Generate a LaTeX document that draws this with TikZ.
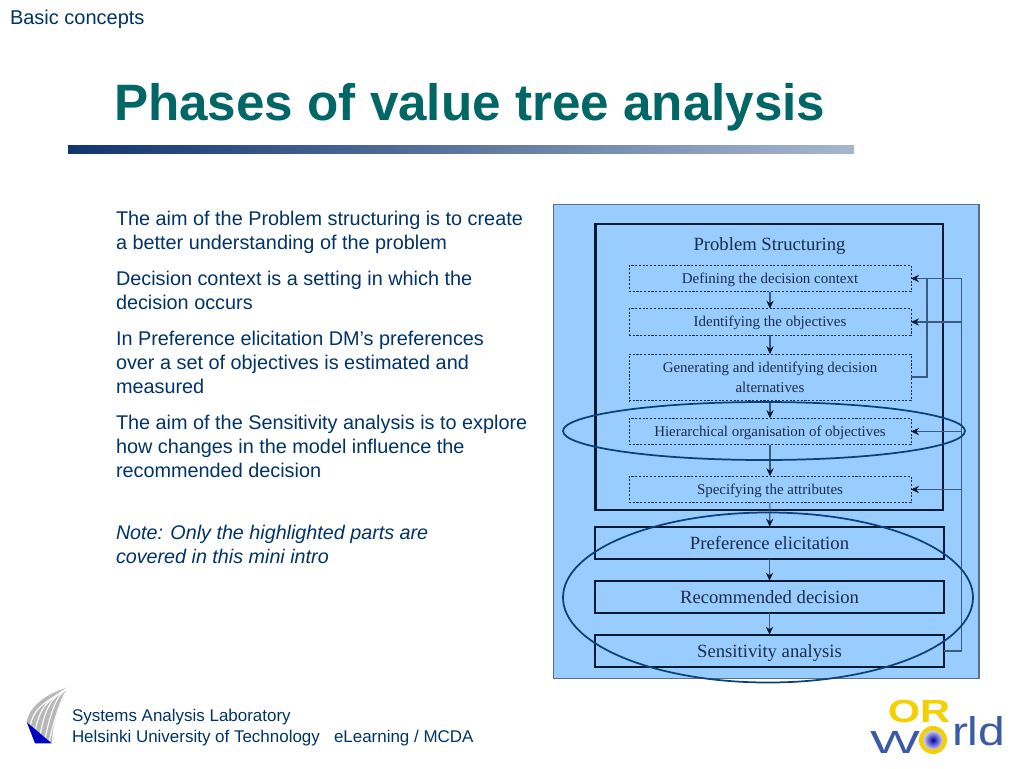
\documentclass[tikz,border=0pt]{standalone}
\usepackage{fontspec}
\setmainfont{Liberation Sans}
\newfontfamily\dgfont{Liberation Serif}
\usetikzlibrary{arrows.meta,shapes.geometric}
\definecolor{navytext}{HTML}{003366}
\definecolor{teal}{HTML}{006666}
\definecolor{panelblue}{HTML}{99CCFF}
\definecolor{dgink}{HTML}{1C2C4C}
\definecolor{ringblue}{HTML}{0B4078}
\definecolor{boxink}{HTML}{0A1A30}
\definecolor{wireink}{HTML}{3A5A80}
\definecolor{tipink}{HTML}{101C30}
\definecolor{orgold}{HTML}{F4D000}
\definecolor{worldblue}{HTML}{3A5AA8}
\definecolor{barstart}{HTML}{12356E}
\definecolor{barend}{HTML}{A6B6D0}
\tikzset{
  x=0.75pt,y=-0.75pt,
  px/.style={inner sep=0pt,outer sep=0pt},
  bodytext/.style={px,anchor=north west,align=left,text=navytext,font=\fontsize{14.88}{18}\selectfont},
  foot/.style={px,anchor=base west,text=navytext,font=\fontsize{12.72}{15}\selectfont},
  dashbase/.style={px,draw=dgink,dash pattern=on 1.6pt off 1.2pt,line width=0.55pt,anchor=center,align=center,text=dgink,font=\dgfont\fontsize{11.2}{14.6}\selectfont,minimum width=211.5pt},
  dashbox/.style={dashbase,minimum height=20pt,text height=9pt,text depth=2.1pt},
  thickbox/.style={px,draw=boxink,line width=1.7pt,anchor=center,text=dgink,font=\dgfont\fontsize{14}{16}\selectfont,minimum width=262pt,minimum height=24.5pt,text height=12pt,text depth=3pt},
  flow/.style={draw=wireink,line width=0.8pt,-{Stealth[length=6pt,width=5.5pt,color=tipink]}},
  wire/.style={draw=wireink,line width=0.8pt},
  ring/.style={px,draw=ringblue,line width=1.3pt,ellipse},
}
\begin{document}
\begin{tikzpicture}
\useasboundingbox (0,0) rectangle (1024,768);
\fill[white] (0,0) rectangle (1024,768);
\node[px,anchor=base west,text=navytext,font=\fontsize{15}{16}\selectfont] (crumb) at (10,24) {Basic concepts};
\node[px,anchor=base west,text=teal,font=\bfseries\fontsize{38.4}{40}\selectfont] (title) at (114,120) {Phases of value tree analysis};
\shade[left color=barstart,right color=barend] (68,145) rectangle (854,153.5);

\node[bodytext] (p1) at (116,211) {The aim of the Problem structuring is to create\\a better understanding of the problem};
\node[bodytext] (p2) at (116,271) {Decision context is a setting in which the\\decision occurs};
\node[bodytext] (p3) at (116,331) {In Preference elicitation DM’s preferences\\over a set of objectives is estimated and\\measured};
\node[bodytext] (p4) at (116,415) {The aim of the Sensitivity analysis is to explore\\how changes in the model influence the\\recommended decision};
\node[bodytext,font=\itshape\fontsize{14.8}{18}\selectfont] (p5) at (116,525) {Note: Only the highlighted parts are\\covered in this mini intro};

% panel
\draw[fill=panelblue,draw=black!45!panelblue,line width=0.8pt] (553.5,204.5) rectangle (979,678.5);
\draw[draw=boxink,line width=1.7pt] (595.6,224) rectangle (943,510);
\node[px,text=dgink,font=\dgfont\fontsize{14}{16}\selectfont] (ps) at (769.5,246) {Problem Structuring};

\node[dashbox] (d1) at (770,278.5) {Defining the decision context};
\node[dashbox] (d2) at (770,322) {Identifying the objectives};
\node[dashbase,minimum height=35pt] (d3) at (770,377.5) {Generating and identifying decision\\alternatives};
\node[dashbox] (d4) at (770,431.5) {Hierarchical organisation of objectives};
\node[dashbox] (d5) at (770,489.5) {Specifying the attributes};
\node[thickbox] (t1) at (769.5,543) {Preference elicitation};
\node[thickbox] (t2) at (769.5,597) {Recommended decision};
\node[thickbox] (t3) at (769.5,651) {Sensitivity analysis};

\coordinate (rail) at (961.7,651);
\coordinate (inner) at (927,377);

\draw[flow] (d1) -- (d2);
\draw[flow] (d2) -- (d3);
\draw[flow] (d3) -- (d4);
\draw[flow] (d4) -- (d5);
\draw[flow] (d5) -- (t1);
\draw[flow] (t1) -- (t2);
\draw[flow] (t2) -- (t3);

\draw[wire] (t3.east) -- (rail) -- (rail |- d1.east);
\draw[flow] (rail |- d1.east) -- (d1.east);
\draw[flow] (rail |- d2.east) -- (d2.east);
\draw[flow] (rail |- d4.east) -- (d4.east);
\draw[flow] (rail |- d5.east) -- (d5.east);
\draw[wire] (d3.east |- inner) -- (inner) -- (inner |- d1.east);

\node[ring,minimum width=301.5pt,minimum height=43.5pt] (e1) at (764,431) {};
\node[ring,minimum width=307.5pt,minimum height=127.5pt] (e2) at (768,597.5) {};

% footer
\node[foot] (f1) at (72,721) {Systems Analysis Laboratory};
\node[foot] (f2) at (72,742) {Helsinki University of Technology};
\node[foot] (f3) at (334,742) {eLearning / MCDA};

% TKK logo
\fill[black!28] (69,687) .. controls (48,693) and (30,705) .. (26.7,721.5) -- (51.7,743.3) .. controls (53,725) and (57,708) .. (69,687) -- cycle;
\foreach \a/\b/\c/\d in {30/727/34/707,35/731/41/703,40/735/47/699,45/739/54/695,49/742/61/691}{
  \draw[white,line width=0.8pt] (\a,\b) .. controls (\c,\d) and (\c+8,\d-2) .. (69,687);
}
\fill[blue!75!black] (26.7,722) -- (51.7,743.3) -- (35,743.3) -- cycle;

% OR World logo
\node[px,text=orgold,font=\bfseries\fontsize{24}{26}\selectfont] (lor) at (919,711.5) {\scalebox{1.3}[1]{OR}};
\node[px,text=worldblue,font=\fontsize{24}{26}\selectfont,anchor=base] (lw) at (895,753) {\scalebox{1.65}[1]{W}};
\fill[orgold] (933,740) circle (14);
\shade[inner color=blue!60!black,outer color=white!80!blue] (933,740) circle (9.5);
\node[px,text=worldblue,font=\fontsize{30}{32}\selectfont,anchor=base west] (lrld) at (952,745) {\scalebox{1.2}[1]{rld}};
\end{tikzpicture}
\end{document}
